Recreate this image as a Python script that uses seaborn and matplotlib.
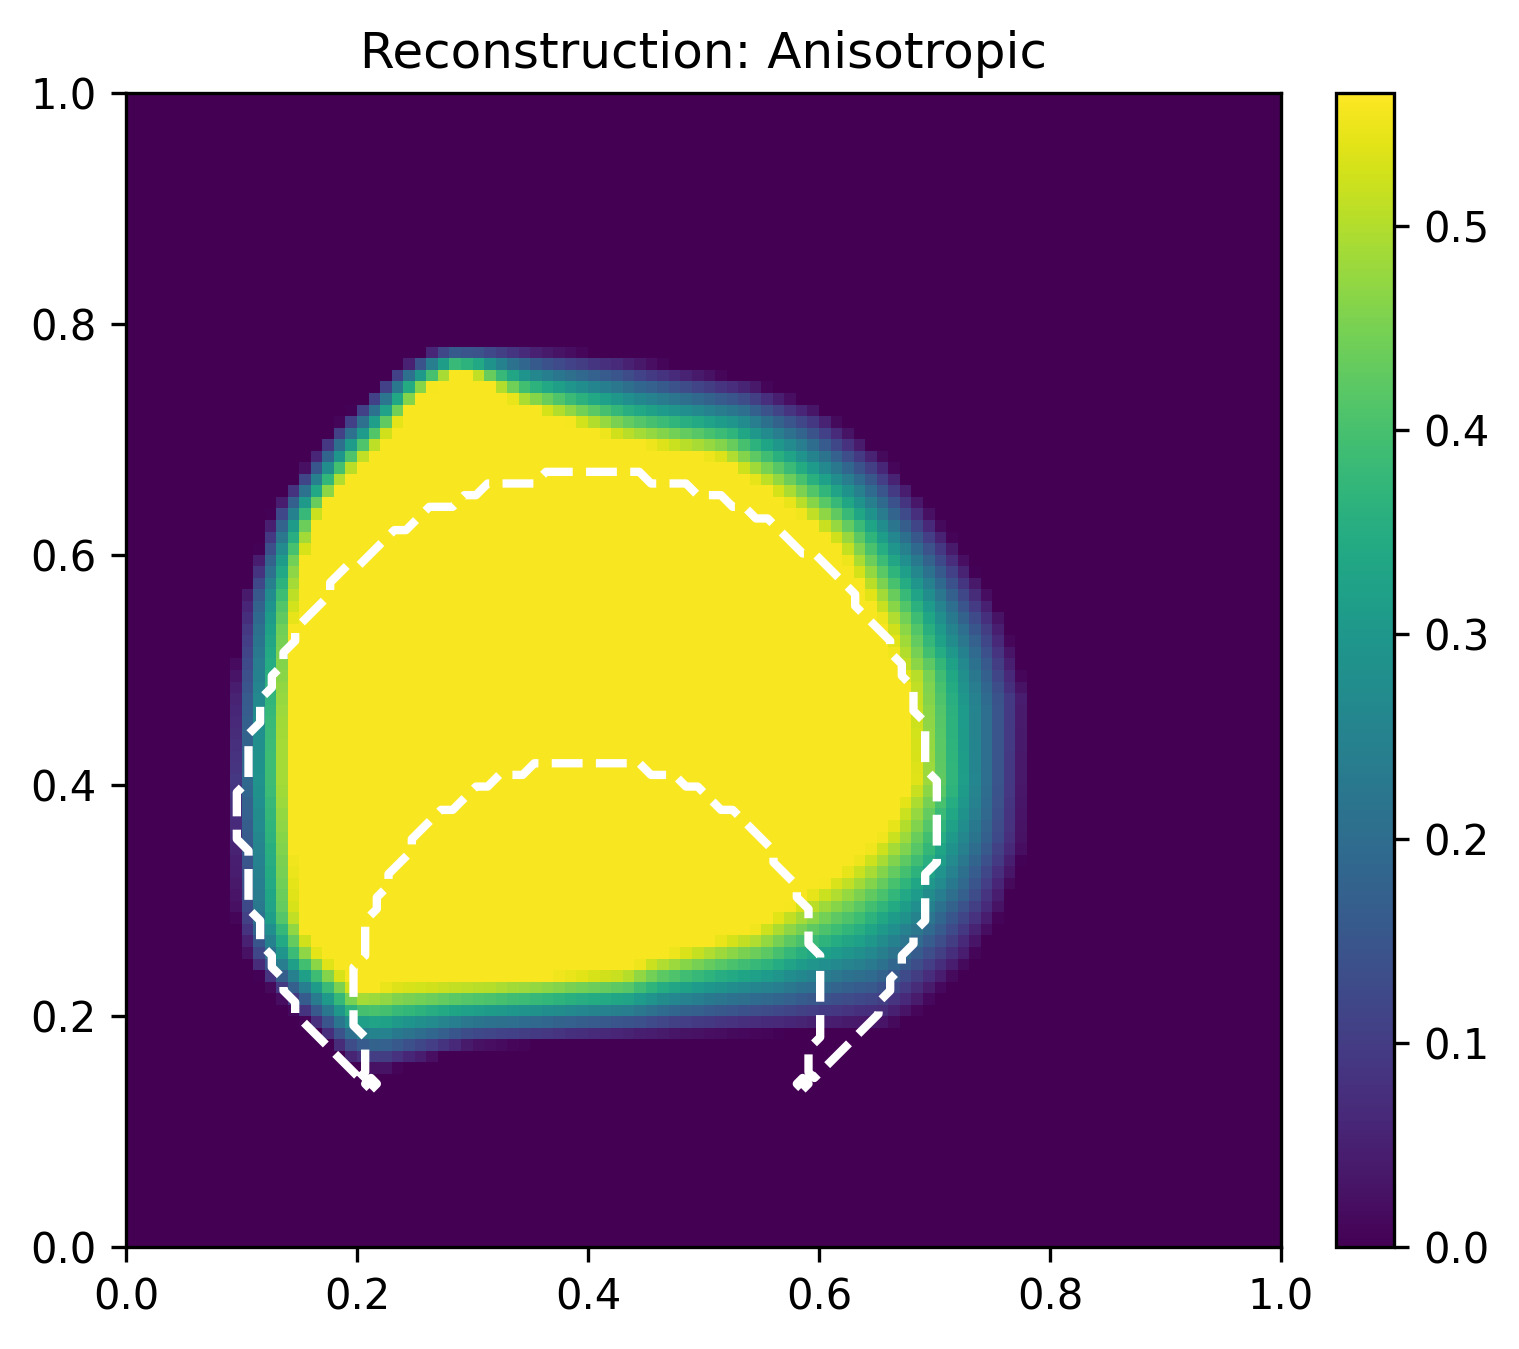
import numpy as np
import pandas as pd
import matplotlib
matplotlib.use("Agg")
import matplotlib.pyplot as plt
import seaborn as sns
from matplotlib.path import Path

# ---------------- data ----------------
TITLE = "Reconstruction: Anisotropic"
GRID_N = 100                      # reconstruction pixels per side
PLATEAU = 0.56                    # value of the bright plateau
VMAX = 0.565                      # colour-scale maximum
CBAR_TICKS = [0.0, 0.1, 0.2, 0.3, 0.4, 0.5]
CBAR_TICK_LABELS = ["0.0", "0.1", "0.2", "0.3", "0.4", "0.5"]
AXIS_TICKS = [0.0, 0.2, 0.4, 0.6, 0.8, 1.0]
AXIS_TICK_LABELS = ["0.0", "0.2", "0.4", "0.6", "0.8", "1.0"]

# outline of the plateau (where the reconstruction reaches its maximum)
INNER_X = [0.285, 0.257, 0.220, 0.190, 0.168, 0.153, 0.145, 0.142, 0.142, 0.148,
           0.160, 0.177, 0.203, 0.230, 0.313, 0.430, 0.456, 0.543, 0.586, 0.630,
           0.659, 0.681, 0.676, 0.673, 0.659, 0.616, 0.572, 0.514, 0.428, 0.370,
           0.341, 0.300]
INNER_Y = [0.757, 0.740, 0.695, 0.665, 0.636, 0.593, 0.535, 0.450, 0.405, 0.290,
           0.262, 0.246, 0.222, 0.228, 0.231, 0.240, 0.251, 0.275, 0.303, 0.333,
           0.361, 0.405, 0.491, 0.477, 0.535, 0.607, 0.645, 0.682, 0.699, 0.720,
           0.730, 0.755]
# outline where the reconstruction falls to zero
OUTER_X = [0.280, 0.330, 0.428, 0.543, 0.601, 0.659, 0.716, 0.759, 0.783, 0.780,
           0.759, 0.731, 0.687, 0.659, 0.430, 0.300, 0.220, 0.190, 0.162, 0.130,
           0.105, 0.093, 0.086, 0.090, 0.101, 0.125, 0.177, 0.231, 0.260]
OUTER_Y = [0.782, 0.782, 0.773, 0.751, 0.728, 0.685, 0.615, 0.549, 0.477, 0.347,
           0.289, 0.246, 0.203, 0.188, 0.179, 0.172, 0.150, 0.160, 0.188, 0.217,
           0.246, 0.289, 0.405, 0.477, 0.563, 0.636, 0.708, 0.760, 0.777]

# true object (crescent): big disc minus small disc
OUTER_CENTER = [0.40, 0.37]
OUTER_RADIUS = 0.30
INNER_CENTER = [0.40, 0.22]
INNER_RADIUS = 0.20


# ---------------- build the image ----------------
def dist_to_polygon(px, py, xs, ys):
    xs = np.asarray(xs); ys = np.asarray(ys)
    bx_, by_ = np.roll(xs, -1), np.roll(ys, -1)
    d = np.full(px.shape, np.inf)
    for x1, y1, x2, y2 in zip(xs, ys, bx_, by_):
        vx, vy = x2 - x1, y2 - y1
        L2 = vx * vx + vy * vy
        t = np.clip(((px - x1) * vx + (py - y1) * vy) / L2, 0, 1)
        cx, cy = x1 + t * vx, y1 + t * vy
        d = np.minimum(d, np.hypot(px - cx, py - cy))
    return d


centers = (np.arange(GRID_N) + 0.5) / GRID_N
XX, YY = np.meshgrid(centers, centers)
pts = np.column_stack([XX.ravel(), YY.ravel()])
in_inner = Path(np.column_stack([INNER_X, INNER_Y])).contains_points(pts).reshape(XX.shape)
in_outer = Path(np.column_stack([OUTER_X, OUTER_Y])).contains_points(pts).reshape(XX.shape)
d_in = dist_to_polygon(XX, YY, INNER_X, INNER_Y)
d_out = dist_to_polygon(XX, YY, OUTER_X, OUTER_Y)
t = d_out / (d_in + d_out + 1e-12)
recon = np.where(in_inner, 1.0, np.where(in_outer, t, 0.0)) * PLATEAU

# phantom sampled on node grid 0..1
nodes = np.linspace(0, 1, GRID_N)
PX, PY = np.meshgrid(nodes, nodes)
phantom = (((PX - OUTER_CENTER[0]) ** 2 + (PY - OUTER_CENTER[1]) ** 2 <= OUTER_RADIUS ** 2)
           & ((PX - INNER_CENTER[0]) ** 2 + (PY - INNER_CENTER[1]) ** 2 > INNER_RADIUS ** 2)
           ).astype(float)

df = pd.DataFrame(recon, index=np.round(centers, 3), columns=np.round(centers, 3))

# ---------------- figure ----------------
W, H = 1519, 1349
fig = plt.figure(figsize=(W / 300, H / 300), dpi=300)
ax = fig.add_axes([126 / W, 1 - 1247 / H, 1155 / W, 1154 / H])
cax = fig.add_axes([1336 / W, 1 - 1247 / H, 58 / W, 1154 / H])

sns.heatmap(df, ax=ax, cbar_ax=cax, cmap="viridis", vmin=0, vmax=VMAX,
            xticklabels=False, yticklabels=False,
            cbar_kws={"ticks": CBAR_TICKS})
ax.invert_yaxis()

ax.contour(nodes * GRID_N, nodes * GRID_N, phantom, levels=[0.5], colors="white",
           linestyles="--", linewidths=2)

tick_pos = [v * GRID_N for v in AXIS_TICKS]
ax.set_xticks(tick_pos)
ax.set_xticklabels(AXIS_TICK_LABELS, rotation=0, fontsize=10)
ax.set_yticks(tick_pos)
ax.set_yticklabels(AXIS_TICK_LABELS, rotation=0, fontsize=10)
ax.set_xlim(0, GRID_N)
ax.set_ylim(0, GRID_N)
ax.set_xlabel("")
ax.set_ylabel("")
ax.tick_params(length=3.5, width=0.8, direction="out")
for s in ax.spines.values():
    s.set_visible(True)
    s.set_linewidth(0.8)
    s.set_edgecolor("black")

cb = ax.collections[0].colorbar
cb.outline.set_visible(True)
cb.outline.set_linewidth(0.8)
cb.outline.set_edgecolor("black")
cb.ax.tick_params(labelsize=10, length=3.5, width=0.8)
cb.ax.set_yticklabels(CBAR_TICK_LABELS)

ax.set_title(TITLE, fontsize=12)

fig.savefig("out.png", dpi=300)
